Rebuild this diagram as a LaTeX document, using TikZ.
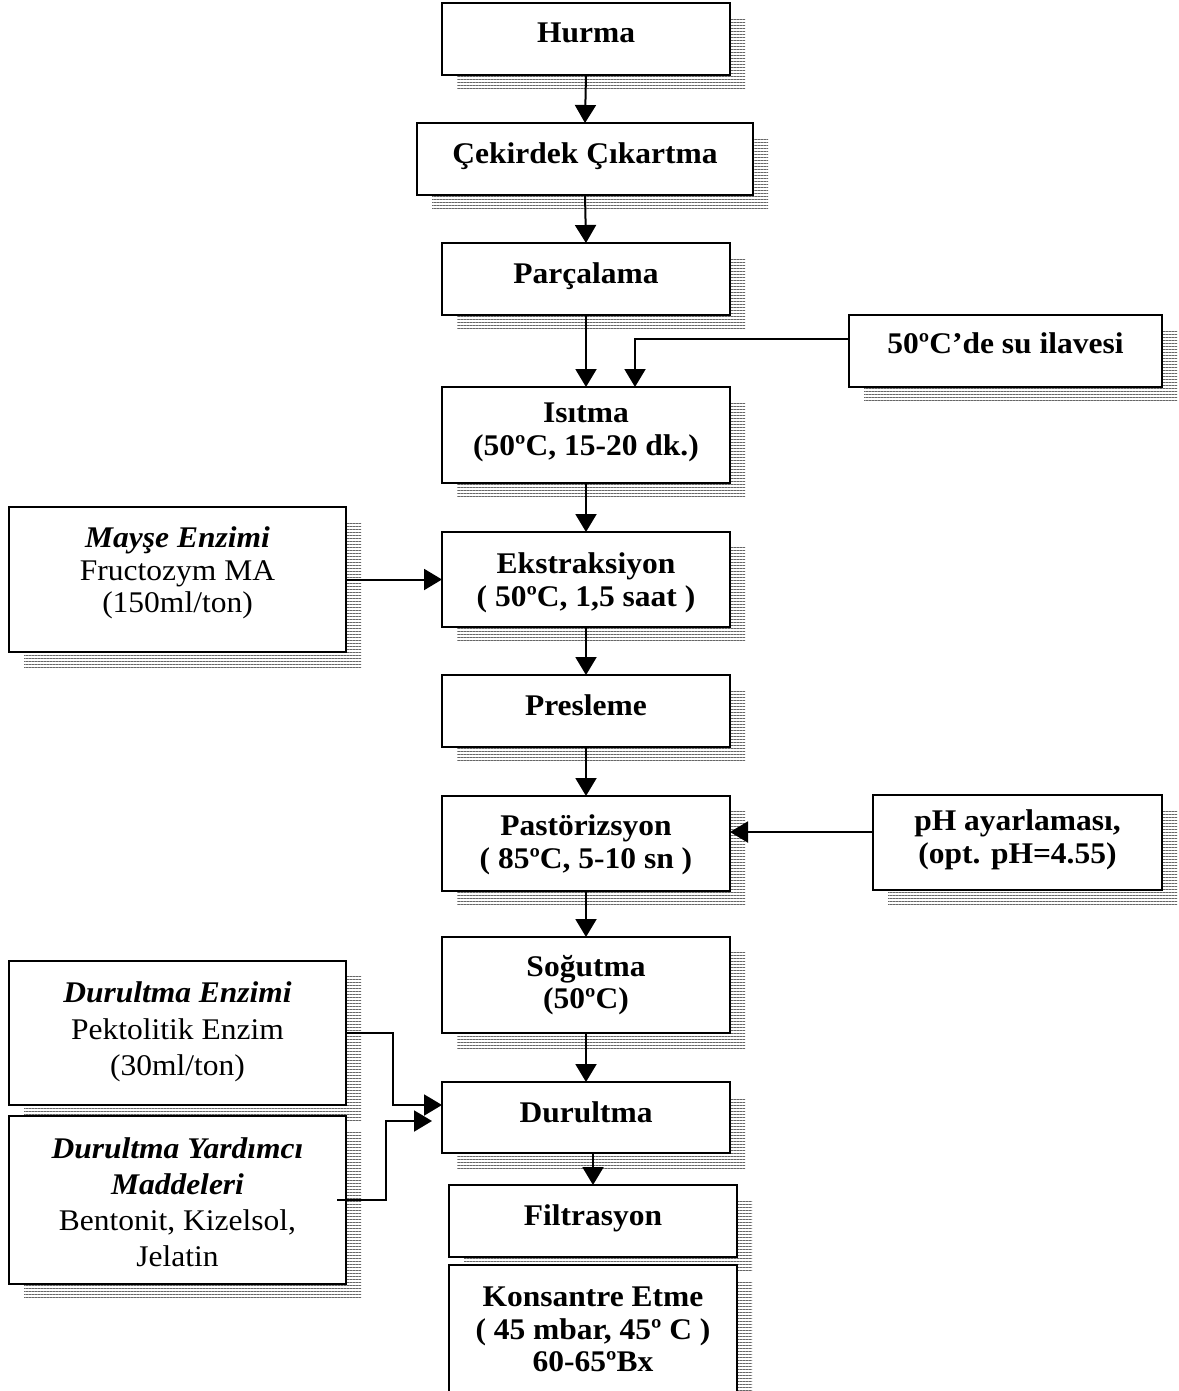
\documentclass[tikz,border=0pt]{standalone}
\usepackage{fontspec}
\setmainfont{Liberation Serif}[FakeStretch=1.05]
\usetikzlibrary{arrows.meta,patterns.meta}
\newcommand{\fsz}{\fontsize{30}{32.5}\selectfont}
\tikzset{
  boxst/.style={draw=black, line width=2pt, fill=white, inner sep=0pt, outer sep=0pt, rectangle},
  txtst/.style={inner sep=0pt, outer sep=0pt, align=center, font=\fsz\bfseries},
  shadowst/.style={pattern={Lines[angle=0,distance=3pt,line width=1pt]}, pattern color=black!60},
  arr/.style={line width=2pt, -{Triangle[width=21pt,length=18pt]}},
}
% name, x1, y1, x2, y2, text offset, text, extra text style
\newcommand{\mkbox}[8]{%
  \fill[shadowst] (#2+15,-#3-15) rectangle (#4+15,-#5-15);
  \node[boxst, minimum width={#4-#2}, minimum height={#5-#3}] (#1) at ({(#2+#4)/2},{-(#3+#5)/2}) {};
  \node[txtst, anchor=north, #8] (#1t) at ({(#2+#4)/2},{-#3-#6}) {#7};
}
\begin{document}
\begin{tikzpicture}[x=1pt,y=1pt]
\useasboundingbox (0,0) rectangle (1178,-1391);
\clip (0,0) rectangle (1178,-1391);
\mkbox{hurma}{442}{3}{730}{75}{20}{Hurma}{}
\mkbox{cekirdek}{417}{123}{753}{195}{20}{Çekirdek Çıkartma}{}
\mkbox{parcalama}{442}{243}{730}{315}{20}{Parçalama}{}
\mkbox{su}{849}{315}{1162}{387}{18}{50ºC’de su ilavesi}{}
\mkbox{isitma}{442}{387}{730}{483}{16}{Isıtma\\(50ºC, 15-20 dk.)}{}
\mkbox{mayse}{9}{507}{346}{652}{20}{\textit{Mayşe Enzimi}\\\mdseries Fructozym MA\\\mdseries (150ml/ton)}{}
\mkbox{ekstr}{442}{532}{730}{627}{21}{Ekstraksiyon\\( 50ºC, 1,5 saat )}{}
\mkbox{presleme}{442}{675}{730}{747}{20}{Presleme}{}
\mkbox{past}{442}{796}{730}{891}{19}{Pastörizsyon\\( 85ºC, 5-10 sn )}{}
\mkbox{ph}{873}{795}{1162}{890}{15}{pH ayarlaması,\\(opt. pH=4.55)}{}
\mkbox{sogutma}{442}{937}{730}{1033}{18}{Soğutma\\(50ºC)}{}
\mkbox{durenz}{9}{961}{346}{1105}{21}{\textit{Durultma Enzimi}\\\mdseries Pektolitik Enzim\\\mdseries (30ml/ton)}{font=\fontsize{30}{36.5}\selectfont\bfseries}
\mkbox{yard}{9}{1116}{346}{1284}{22}{\textit{Durultma Yardımcı}\\\textit{Maddeleri}\\\mdseries Bentonit, Kizelsol,\\\mdseries Jelatin}{font=\fontsize{30}{36}\selectfont\bfseries}
\mkbox{durultma}{442}{1082}{730}{1153}{20}{Durultma}{}
\mkbox{filtr}{449}{1185}{737}{1257}{20}{Filtrasyon}{}
\mkbox{konsantre}{449}{1265}{737}{1430}{22}{Konsantre Etme\\( 45 mbar, 45º C )\\60-65ºBx}{}
% connectors
\draw[arr] (hurma.south) -- (cekirdek.north);
\draw[arr] (cekirdek.south) -- (parcalama.north);
\draw[arr] (parcalama.south) -- (isitma.north);
\draw[arr] ([yshift=12]su.west) -| ([xshift=49]isitma.north);
\draw[arr] (isitma.south) -- (ekstr.north);
\draw[arr] (mayse.east) -- (ekstr.west);
\draw[arr] (ekstr.south) -- (presleme.north);
\draw[arr] (presleme.south) -- (past.north);
\draw[arr] ([yshift=10.5]ph.west) -- ([yshift=10.5]ph.west -| past.east);
\draw[arr] (past.south) -- (sogutma.north);
\draw[arr] (sogutma.south) -- (durultma.north);
\draw[arr] (durenz.east) -- ++(47,0) |- ([yshift=12.5]durultma.west);
\draw[arr] ([xshift=-9]yard.east) -- ++(49,0) |- ([xshift=-10,yshift=-3.5]durultma.west);
\draw[arr] (filtr.north |- durultma.south) -- (filtr.north);
\end{tikzpicture}
\end{document}
